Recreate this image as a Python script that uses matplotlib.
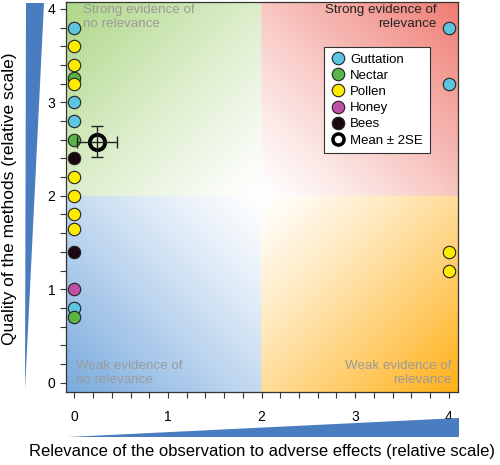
import numpy as np
import matplotlib
matplotlib.use("Agg")
import matplotlib.pyplot as plt
from matplotlib.patches import Polygon
from matplotlib.lines import Line2D

plt.rcParams['font.family'] = ['Liberation Sans', 'DejaVu Sans']

# ---- data ----
categories = ["Guttation", "Nectar", "Pollen", "Honey", "Bees"]
colors = {"Guttation": "#5cc6e0", "Nectar": "#5ab447", "Pollen": "#fdec00",
          "Honey": "#c04fa6", "Bees": "#1a0810"}

guttation_x = [0, 0, 0, 0, 4, 4]
guttation_y = [3.8, 3.0, 2.8, 0.8, 3.8, 3.2]
nectar_x = [0, 0, 0]
nectar_y = [3.26, 2.6, 0.7]
pollen_x = [0, 0, 0, 0, 0, 0, 0, 4, 4]
pollen_y = [3.6, 3.4, 3.2, 2.2, 2.0, 1.8, 1.64, 1.4, 1.2]
honey_x = [0]
honey_y = [1.0]
bees_x = [0, 0]
bees_y = [2.4, 1.4]

mean_x, mean_y = 0.24, 2.58
mean_xerr, mean_yerr = 0.21, 0.17

quadrant_labels = ["Strong evidence of\nno relevance", "Strong evidence of\nrelevance",
                   "Weak evidence of\nno relevance", "Weak evidence of\nrelevance"]

xlim = (-0.09, 4.1)
ylim = (-0.1, 4.075)

fig = plt.figure(figsize=(5.0, 4.65), dpi=100)
ax = fig.add_axes([0.132, 0.157, 0.784, 0.839])

# ---- background gradient ----
nx, ny = 500, 500
xs = np.linspace(xlim[0], xlim[1], nx)
ys = np.linspace(ylim[0], ylim[1], ny)
X, Y = np.meshgrid(xs, ys)
img = np.ones((ny, nx, 3))
corner_cols = {
    (0, 1): np.array([172, 214, 132]) / 255.0,   # top-left green
    (1, 1): np.array([238, 122, 112]) / 255.0,   # top-right red
    (0, 0): np.array([120, 170, 222]) / 255.0,   # bottom-left blue
    (1, 0): np.array([255, 176, 22]) / 255.0,    # bottom-right orange
}
dx = np.abs(X - 2) / 2.1
dy = np.abs(Y - 2) / 2.1
t = np.clip((dx + dy) / 2.0, 0, 1) ** 1.2
for (qx, qy), c in corner_cols.items():
    m = ((X >= 2) == bool(qx)) & ((Y >= 2) == bool(qy))
    for k in range(3):
        ch = img[:, :, k]
        ch[m] = 1 - t[m] * (1 - c[k])
ax.imshow(img, extent=[xlim[0], xlim[1], ylim[0], ylim[1]], origin='lower',
          aspect='auto', zorder=0, interpolation='bilinear')

# ---- points ----
series = [("Guttation", guttation_x, guttation_y), ("Nectar", nectar_x, nectar_y),
          ("Pollen", pollen_x, pollen_y), ("Honey", honey_x, honey_y),
          ("Bees", bees_x, bees_y)]
for name, xv, yv in series:
    ax.scatter(xv, yv, s=80, c=colors[name], edgecolors='#222222', linewidths=0.8,
               zorder=3, clip_on=False)

ax.plot([mean_x], [mean_y], 'o', ms=11, mfc='none', mec='black', mew=2.8, zorder=4)
ax.errorbar([mean_x], [mean_y], xerr=[mean_xerr], yerr=[mean_yerr], fmt='none',
            ecolor='#222222', elinewidth=1.0, capsize=4, capthick=1.0, zorder=5)

# ---- quadrant labels ----
gray = '#9a9a9a'
fs_q = 9.6
ls_q = 1.22
ax.text(0.093, 4.05, quadrant_labels[0], ha='left', va='top', fontsize=fs_q, color=gray,
        linespacing=ls_q, zorder=2)
ax.text(3.87, 4.05, quadrant_labels[1], ha='right', va='top', fontsize=fs_q, color='#222222',
        linespacing=ls_q, zorder=2)
ax.text(0.02, 0.0, quadrant_labels[2], ha='left', va='baseline', fontsize=fs_q, color=gray,
        linespacing=ls_q, zorder=2)
ax.text(4.03, 0.0, quadrant_labels[3], ha='right', va='baseline', fontsize=fs_q, color=gray,
        linespacing=ls_q, zorder=2)

ax.set_xlim(*xlim)
ax.set_ylim(*ylim)
ax.set_xticks([0, 1, 2, 3, 4])
ax.set_yticks([0, 1, 2, 3, 4])
ax.set_xticks(np.arange(0, 4.01, 0.2), minor=True)
ax.set_yticks(np.arange(0, 4.01, 0.2), minor=True)
ax.tick_params(which='both', direction='out', length=4, width=0.8, color='#333333',
               labelsize=10)
ax.tick_params(axis='x', pad=9)
for sp in ax.spines.values():
    sp.set_linewidth(0.9)
    sp.set_color('#333333')

ax.set_xlabel("Relevance of the observation to adverse effects (relative scale)", fontsize=12)
ax.xaxis.set_label_coords(0.5, -0.133)
ax.set_ylabel("Quality of the methods (relative scale)", fontsize=12.5)
ax.yaxis.set_label_coords(-0.125, 0.495)

# ---- legend ----
handles = [Line2D([], [], marker='o', ls='none', ms=9, mfc=colors[n], mec='#222222', mew=0.8)
           for n in categories]
handles.append(Line2D([], [], marker='o', ls='none', ms=8, mfc='white', mec='black', mew=2.5))
labels = categories + ["Mean ± 2SE"]
leg = ax.legend(handles, labels, loc='upper left', bbox_to_anchor=(0.658, 0.885),
                fontsize=9.5, frameon=True, fancybox=False, framealpha=1,
                edgecolor='#333333', handletextpad=0.3, borderpad=0.5,
                labelspacing=0.3, handlelength=1.2, borderaxespad=0)
leg.get_frame().set_linewidth(0.8)

# ---- wedges (decoration) ----
wcol = '#4a7cc0'
fig.patches.append(Polygon([(26/500, 1 - 3/465), (44/500, 1 - 3/465), (25/500, 1 - 390/465)],
                           closed=True, transform=fig.transFigure, facecolor=wcol,
                           edgecolor='none'))
fig.patches.append(Polygon([(68/500, 1 - 437/465), (459/500, 1 - 437/465), (459/500, 1 - 418/465)],
                           closed=True, transform=fig.transFigure, facecolor=wcol,
                           edgecolor='none'))

fig.savefig("out.png", dpi=100)
